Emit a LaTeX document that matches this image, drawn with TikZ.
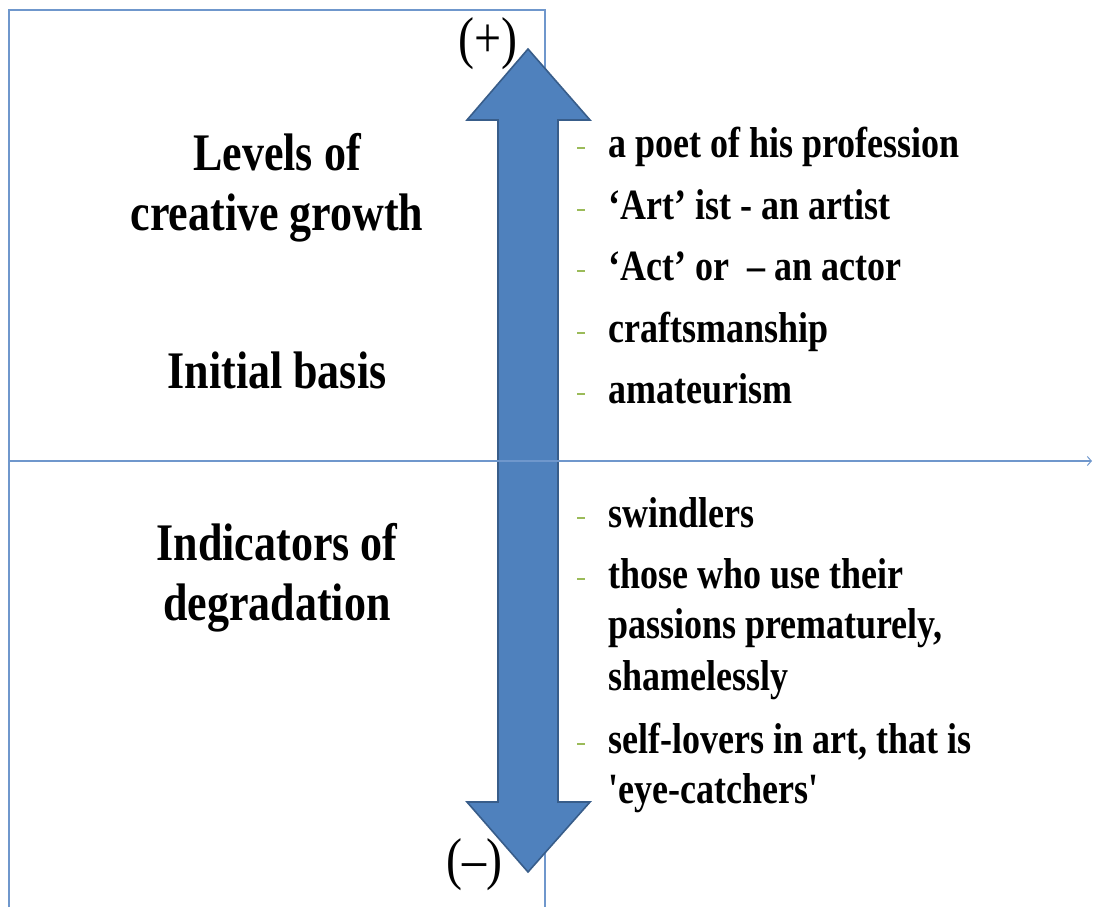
\documentclass[tikz,border=0pt]{standalone}
\usepackage{fontspec}
\setmainfont{Liberation Serif}
\usetikzlibrary{arrows.meta}
\definecolor{axisblue}{HTML}{6F97CC}
\definecolor{arrowfill}{HTML}{4F81BD}
\definecolor{arrowedge}{HTML}{385D8A}
\definecolor{dashgreen}{HTML}{9BBB59}
% text in this figure is set slightly taller than wide
\newcommand{\vstretch}[1]{\scalebox{1}[1.2]{#1}}
\begin{document}
\begin{tikzpicture}[x=1pt,y=-1pt,
  axis/.style={draw=axisblue, line width=1.2pt},
  heading/.style={inner sep=0pt, anchor=base, font=\fontsize{44}{50}\selectfont\bfseries},
  entry/.style={inner sep=0pt, anchor=base west, font=\fontsize{36}{40}\selectfont\bfseries},
  sign/.style={inner sep=0pt, anchor=base, font=\fontsize{48}{50}\selectfont},
  bullet/.style={draw=dashgreen, line width=2.8pt}]
\useasboundingbox (0,0) rectangle (1094,907);

% frame of the left half
\coordinate (tl) at (9,10);
\coordinate (tr) at (545,10);
\coordinate (bl) at (9,907);
\coordinate (br) at (545,907);
\draw[axis] (bl) -- (tl) -- (tr) -- (br);

% the two-headed scale arrow
\filldraw[fill=arrowfill, draw=arrowedge, line width=1.6pt]
  (528,49) -- (590,120) -- (558,120) -- (558,802) -- (590,802) -- (528,872)
  -- (467,802) -- (498,802) -- (498,120) -- (467,120) -- cycle;

% horizontal axis
\coordinate (hl) at (9,461);
\coordinate (hr) at (1092,461);
\draw[axis, -{Straight Barb[length=4pt,width=9pt,line width=1pt]}] (hl) -- (hr);

% poles
\node[sign] (plus) at (488,58) {\vstretch{(+)}};
\node[sign] (minus) at (474,878) {\vstretch{(–)}};

% left headings
\node[heading] (lev1) at (277,170) {\vstretch{Levels of}};
\node[heading] (lev2) at (277,230) {\vstretch{creative growth}};
\node[heading] (init) at (277,388) {\vstretch{Initial basis}};
\node[heading] (ind1) at (277,560) {\vstretch{Indicators of}};
\node[heading] (ind2) at (277,620) {\vstretch{degradation}};

% upper list
\node[entry] (u1) at (608,157) {\vstretch{a poet of his profession}};
\node[entry] (u2) at (608,219) {\vstretch{‘Art’ ist - an artist}};
\node[entry] (u3) at (608,280) {\vstretch{‘Act’ or \ – an actor}};
\node[entry] (u4) at (608,342) {\vstretch{craftsmanship}};
\node[entry] (u5) at (608,403) {\vstretch{amateurism}};
\foreach \y in {157,219,280,342,403}
  \draw[bullet] (577,\y-9) -- (585,\y-9);

% lower list
\node[entry] (l1) at (608,527) {\vstretch{swindlers}};
\node[entry] (l2a) at (608,588) {\vstretch{those who use their}};
\node[entry] (l2b) at (608,638) {\vstretch{passions prematurely,}};
\node[entry] (l2c) at (608,690) {\vstretch{shamelessly}};
\node[entry] (l3a) at (608,753) {\vstretch{self-lovers in art, that is}};
\node[entry] (l3b) at (608,803) {\vstretch{\textquotesingle eye-catchers\textquotesingle}};
\foreach \y in {527,588,753}
  \draw[bullet] (577,\y-9) -- (585,\y-9);
\end{tikzpicture}
\end{document}
